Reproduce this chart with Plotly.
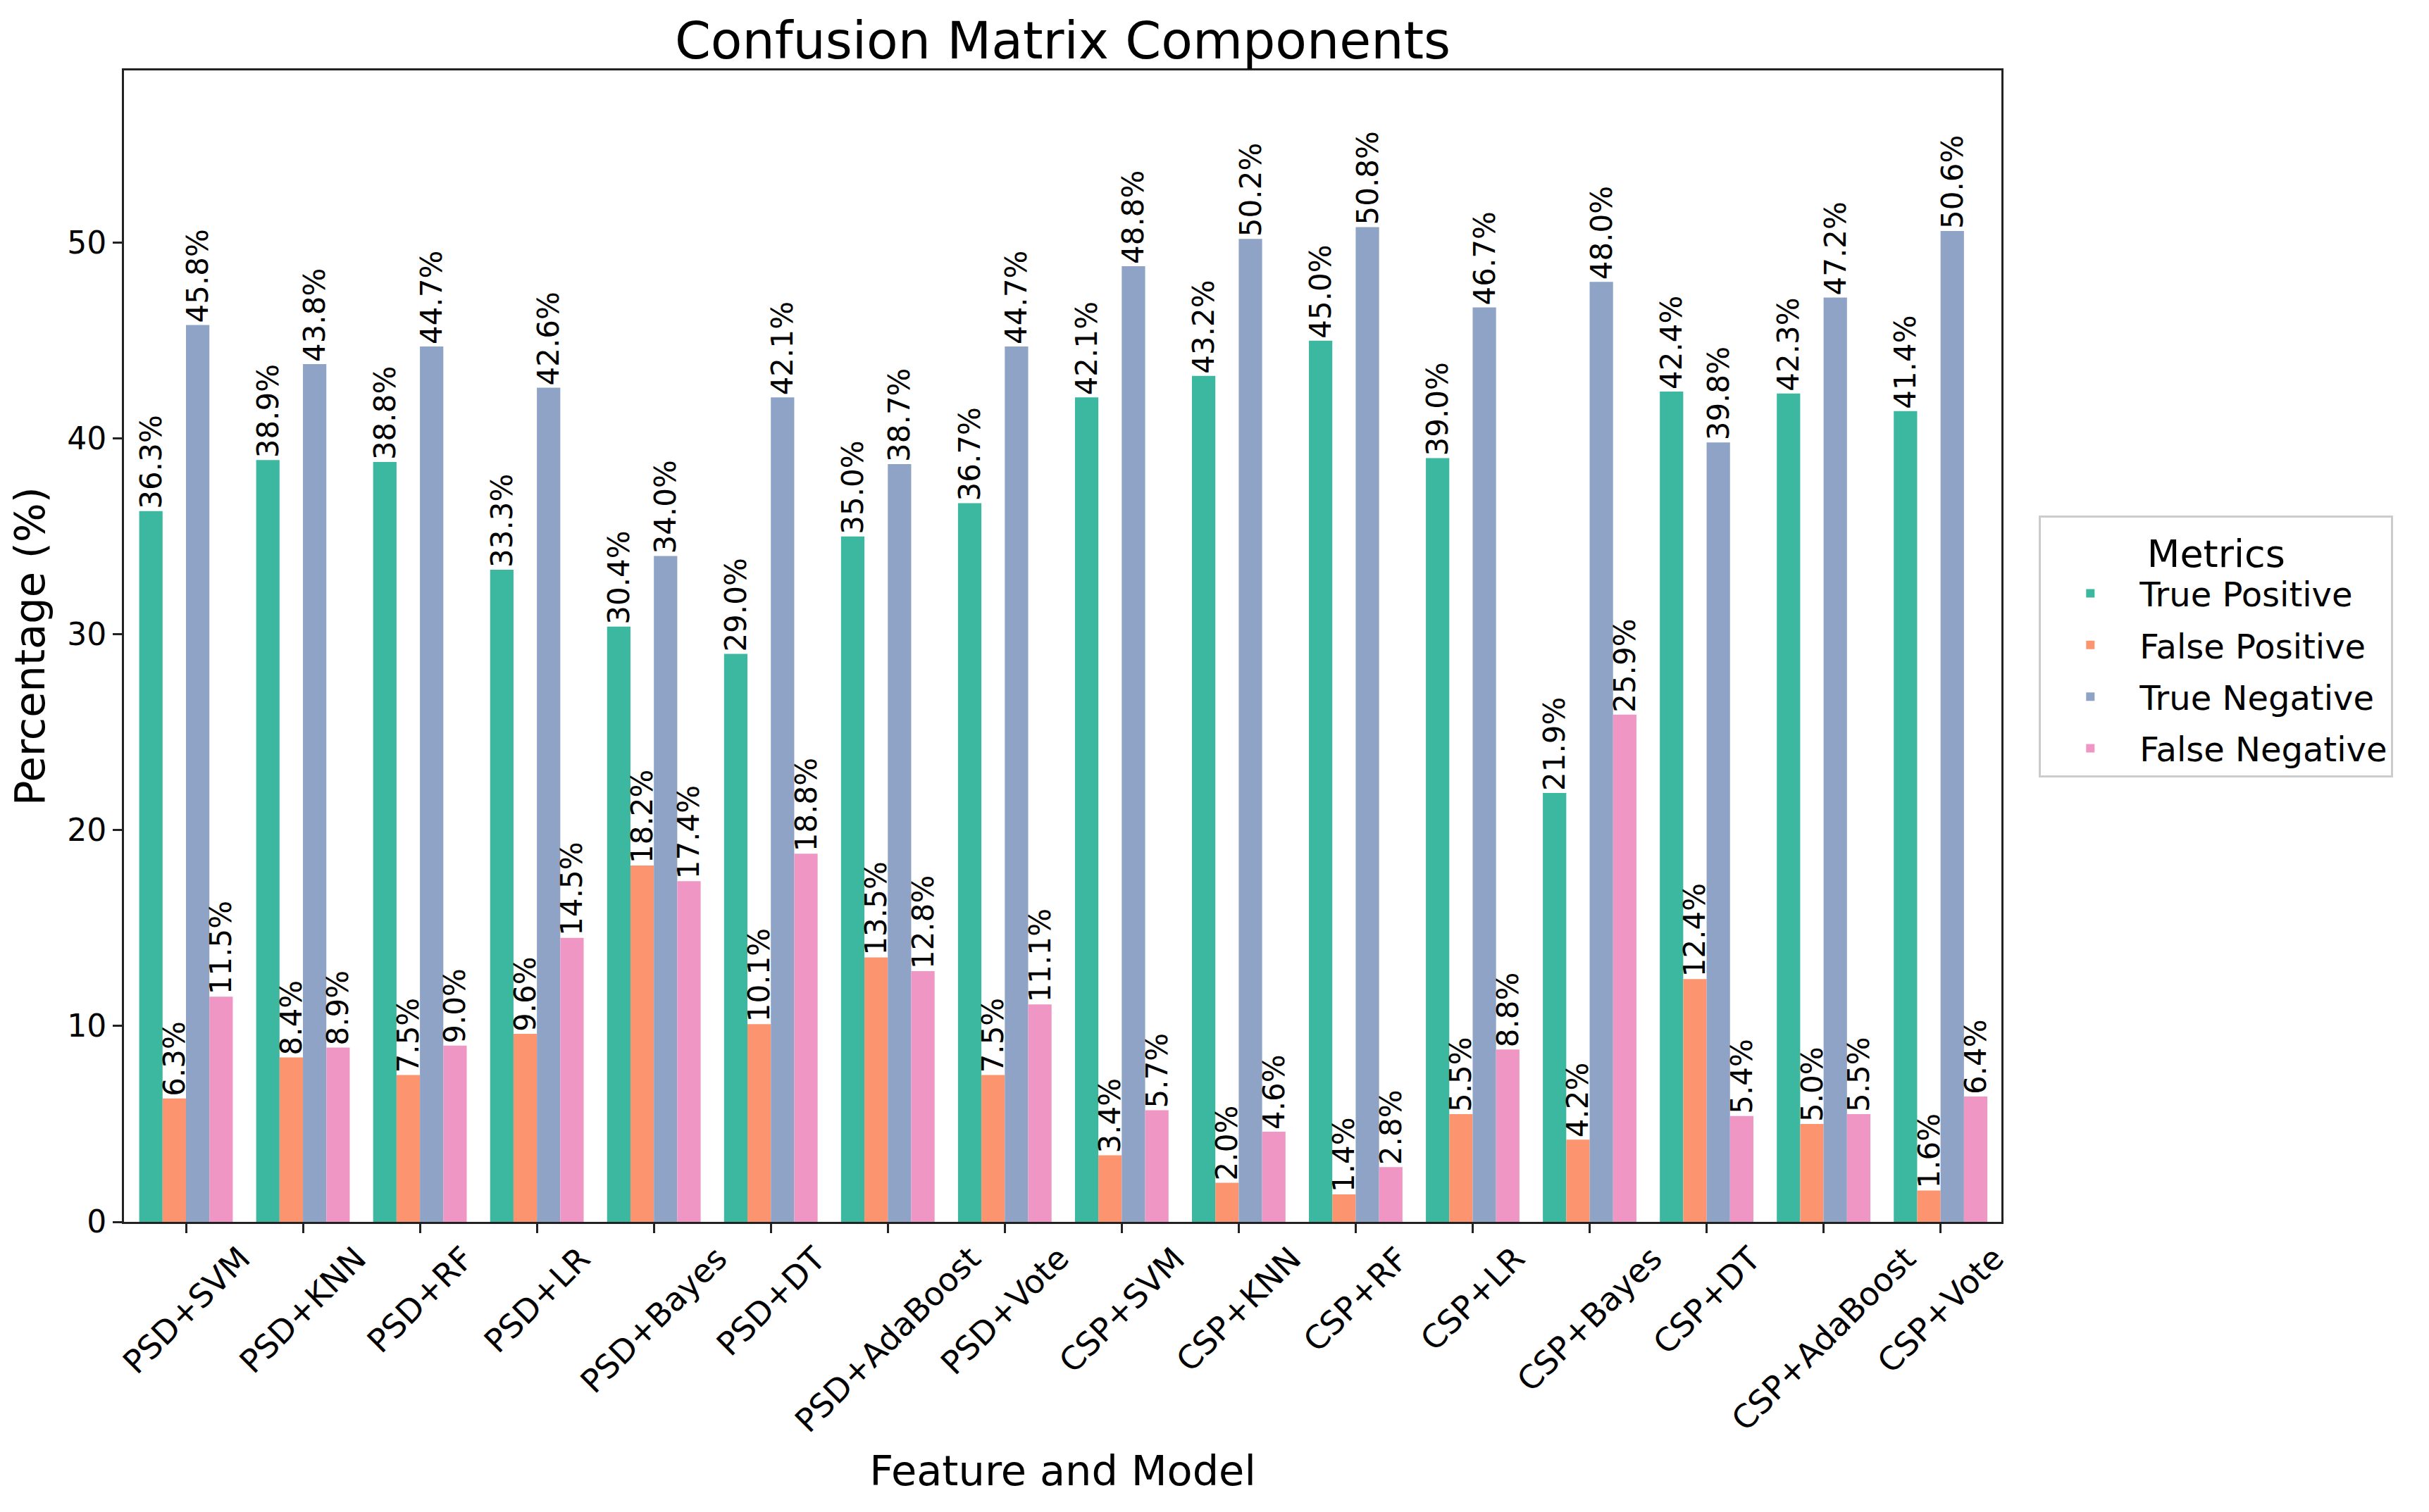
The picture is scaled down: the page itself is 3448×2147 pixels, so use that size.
import plotly.graph_objects as go

categories = ["PSD+SVM", "PSD+KNN", "PSD+RF", "PSD+LR", "PSD+Bayes", "PSD+DT",
              "PSD+AdaBoost", "PSD+Vote", "CSP+SVM", "CSP+KNN", "CSP+RF", "CSP+LR",
              "CSP+Bayes", "CSP+DT", "CSP+AdaBoost", "CSP+Vote"]

true_positive = [36.3, 38.9, 38.8, 33.3, 30.4, 29.0, 35.0, 36.7,
                 42.1, 43.2, 45.0, 39.0, 21.9, 42.4, 42.3, 41.4]
false_positive = [6.3, 8.4, 7.5, 9.6, 18.2, 10.1, 13.5, 7.5,
                  3.4, 2.0, 1.4, 5.5, 4.2, 12.4, 5.0, 1.6]
true_negative = [45.8, 43.8, 44.7, 42.6, 34.0, 42.1, 38.7, 44.7,
                 48.8, 50.2, 50.8, 46.7, 48.0, 39.8, 47.2, 50.6]
false_negative = [11.5, 8.9, 9.0, 14.5, 17.4, 18.8, 12.8, 11.1,
                  5.7, 4.6, 2.8, 8.8, 25.9, 5.4, 5.5, 6.4]

series_names = ["True Positive", "False Positive", "True Negative", "False Negative"]
series_values = [true_positive, false_positive, true_negative, false_negative]
colors = ["#3db8a0", "#fc9470", "#8ea3c6", "#f096c4"]

FONT = "DejaVu Sans"

fig = go.Figure()
for name, vals, col in zip(series_names, series_values, colors):
    fig.add_trace(go.Bar(
        x=categories, y=vals, name=name, legendgroup=name,
        marker=dict(color=col, line=dict(width=0)),
        texttemplate="%{y:.1f}%", textposition="outside", textangle=-90,
        textfont=dict(family=FONT, size=42, color="black"),
        constraintext="none", cliponaxis=False,
    ))

# Rotated category labels centred under each tick (as in the reference)
for cat in categories:
    fig.add_annotation(
        x=cat, xref="x", y=0, yref="paper", text=cat, showarrow=False,
        textangle=-45, xanchor="center", yanchor="top", yshift=-22,
        font=dict(family=FONT, size=46, color="black"),
    )

# page body has an 8px margin; figure sized to fit the window exactly
fig.update_layout(
    width=3432, height=2131,
    paper_bgcolor="white", plot_bgcolor="white",
    font=dict(family=FONT, color="black"),
    barmode="group", bargap=0.2, bargroupgap=0.0,
    margin=dict(l=168, r=599, t=92, b=404, autoexpand=False),
    title=dict(text="Confusion Matrix Components", xref="paper", x=0.5, xanchor="center",
               yref="container", y=0.977, yanchor="middle",
               font=dict(family=FONT, size=73, color="black")),
    legend=dict(
        title=dict(text="Metrics", side="top center",
                   font=dict(family=FONT, size=54, color="black")),
        font=dict(family=FONT, size=48, color="black"),
        x=1.02, xanchor="left", y=0.5, yanchor="middle",
        bordercolor="#cccccc", borderwidth=3, bgcolor="white",
        tracegroupgap=8, itemwidth=130,
    ),
)

fig.update_xaxes(
    range=[-0.53, 15.52], showline=True, mirror=True, linecolor="#222222", linewidth=3,
    ticks="outside", ticklen=13, tickwidth=3, tickcolor="#222222",
    showticklabels=False,
    showgrid=False, zeroline=False,
    title=dict(text="Feature and Model", standoff=318,
               font=dict(family=FONT, size=59, color="black")),
)
fig.update_yaxes(
    range=[0, 58.8], showline=True, mirror=True, linecolor="#222222", linewidth=3,
    ticks="outside", ticklen=13, tickwidth=3, tickcolor="#222222",
    tickvals=[0, 10, 20, 30, 40, 50],
    tickfont=dict(family=FONT, size=44, color="black"),
    showgrid=False, zeroline=False,
    title=dict(text="Percentage (%)", standoff=30,
               font=dict(family=FONT, size=59, color="black")),
)

fig.write_html("out.html")
